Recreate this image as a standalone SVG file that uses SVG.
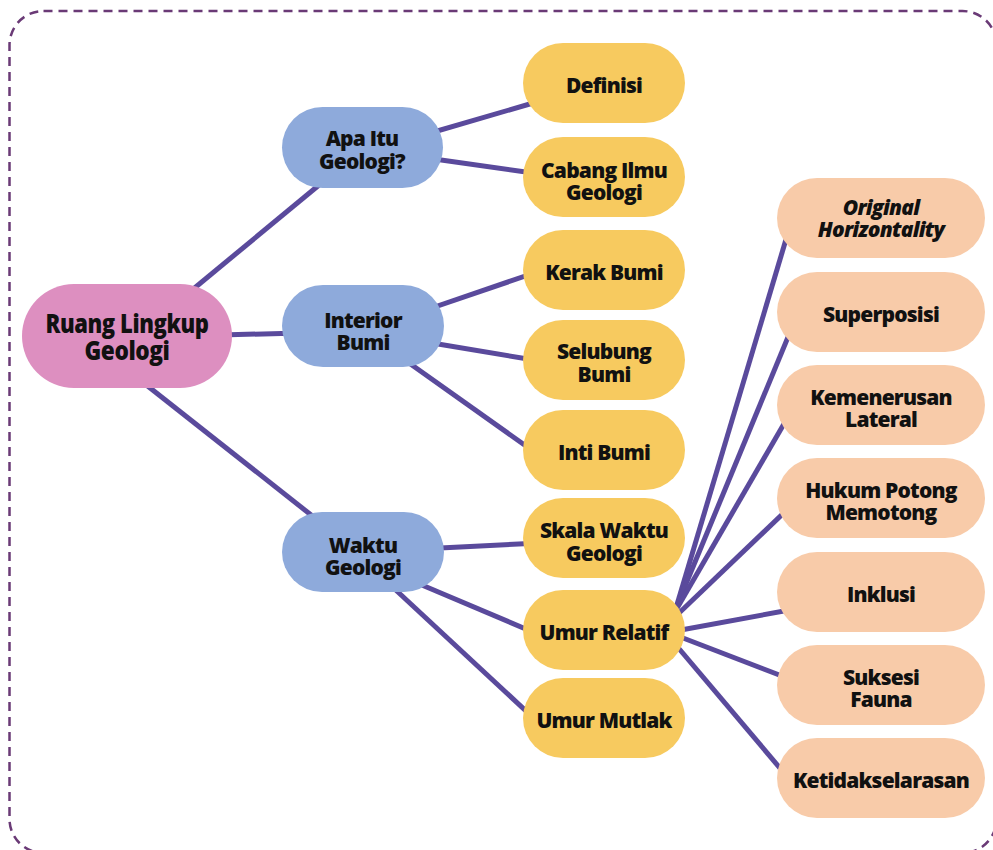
<svg xmlns="http://www.w3.org/2000/svg" width="993" height="850" viewBox="0 0 993 850">
<style>
.frame{fill:none;stroke:#6a3a76;stroke-width:2.5;stroke-dasharray:9 6}
.c line{stroke:#5a4a9c;stroke-width:5;stroke-linecap:butt}
.root{fill:#dd8fc0}
.blue{fill:#8eaadb}
.yel{fill:#f7ca5f}
.pch{fill:#f8cba9}
text{font-family:"Open Sans","Lato",sans-serif;font-weight:800;font-size:21px;fill:#111;text-anchor:middle;letter-spacing:-0.8px}
.big{font-size:26px;letter-spacing:-0.5px}
.it{font-style:italic}
</style>
<rect class="frame" x="9.5" y="11" width="987" height="842" rx="34"/>
<g class="c" id="connectors">
<line x1="180" y1="300" x2="330" y2="176"/>
<line x1="220" y1="335" x2="300" y2="333"/>
<line x1="140" y1="380" x2="320" y2="522"/>
<line x1="420" y1="136" x2="540" y2="101"/>
<line x1="420" y1="157" x2="540" y2="174"/>
<line x1="420" y1="312" x2="540" y2="271"/>
<line x1="420" y1="341" x2="540" y2="361"/>
<line x1="395" y1="353" x2="540" y2="456"/>
<line x1="420" y1="549" x2="540" y2="543"/>
<line x1="410" y1="580" x2="540" y2="635"/>
<line x1="385" y1="580" x2="540" y2="724"/>
<line x1="676" y1="608" x2="790" y2="226"/>
<line x1="676" y1="608" x2="793" y2="325"/>
<line x1="676" y1="610" x2="792" y2="410"/>
<line x1="678" y1="614" x2="792" y2="505"/>
<line x1="670" y1="632" x2="795" y2="609"/>
<line x1="670" y1="633" x2="795" y2="681"/>
<line x1="670" y1="638" x2="790" y2="780"/>
</g>
<g id="root"><rect class="root" x="22" y="284" width="210" height="104" rx="52"/><text class="big" x="127" y="333" textLength="163" lengthAdjust="spacingAndGlyphs">Ruang Lingkup</text><text class="big" x="127" y="360" textLength="85" lengthAdjust="spacingAndGlyphs">Geologi</text></g>
<g id="apa-itu"><rect class="blue" x="282" y="107" width="161" height="81" rx="40.5"/><text x="362" y="146">Apa Itu</text><text x="362" y="169">Geologi?</text></g>
<g id="interior"><rect class="blue" x="282" y="285" width="162" height="82" rx="41"/><text x="363" y="328">Interior</text><text x="363" y="350">Bumi</text></g>
<g id="waktu"><rect class="blue" x="282" y="512" width="162" height="80" rx="40"/><text x="363" y="553">Waktu</text><text x="363" y="575">Geologi</text></g>
<g id="definisi"><rect class="yel" x="523" y="43" width="162" height="80" rx="40"/><text x="604" y="93">Definisi</text></g>
<g id="cabang"><rect class="yel" x="523" y="137" width="162" height="80" rx="40"/><text x="604" y="178">Cabang Ilmu</text><text x="604" y="200">Geologi</text></g>
<g id="kerak"><rect class="yel" x="523" y="230" width="162" height="80" rx="40"/><text x="604" y="280">Kerak Bumi</text></g>
<g id="selubung"><rect class="yel" x="523" y="320" width="162" height="80" rx="40"/><text x="604" y="359">Selubung</text><text x="604" y="382">Bumi</text></g>
<g id="inti"><rect class="yel" x="523" y="410" width="162" height="80" rx="40"/><text x="604" y="460">Inti Bumi</text></g>
<g id="skala"><rect class="yel" x="523" y="498" width="162" height="80" rx="40"/><text x="604" y="538">Skala Waktu</text><text x="604" y="561">Geologi</text></g>
<g id="relatif"><rect class="yel" x="523" y="590" width="162" height="80" rx="40"/><text x="604" y="640">Umur Relatif</text></g>
<g id="mutlak"><rect class="yel" x="523" y="678" width="162" height="80" rx="40"/><text x="604" y="728">Umur Mutlak</text></g>
<g id="original"><rect class="pch" x="777" y="178" width="208" height="80" rx="40"/><text class="it" x="881" y="215">Original</text><text class="it" x="881" y="237">Horizontality</text></g>
<g id="superposisi"><rect class="pch" x="777" y="272" width="208" height="80" rx="40"/><text x="881" y="322">Superposisi</text></g>
<g id="kemenerusan"><rect class="pch" x="777" y="365" width="208" height="80" rx="40"/><text x="881" y="405">Kemenerusan</text><text x="881" y="427">Lateral</text></g>
<g id="hukum"><rect class="pch" x="777" y="458" width="208" height="80" rx="40"/><text x="881" y="498">Hukum Potong</text><text x="881" y="520">Memotong</text></g>
<g id="inklusi"><rect class="pch" x="777" y="552" width="208" height="80" rx="40"/><text x="881" y="602">Inklusi</text></g>
<g id="suksesi"><rect class="pch" x="777" y="645" width="208" height="80" rx="40"/><text x="881" y="685">Suksesi</text><text x="881" y="707">Fauna</text></g>
<g id="ketidak"><rect class="pch" x="777" y="738" width="208" height="80" rx="40"/><text x="881" y="788">Ketidakselarasan</text></g>
</svg>
